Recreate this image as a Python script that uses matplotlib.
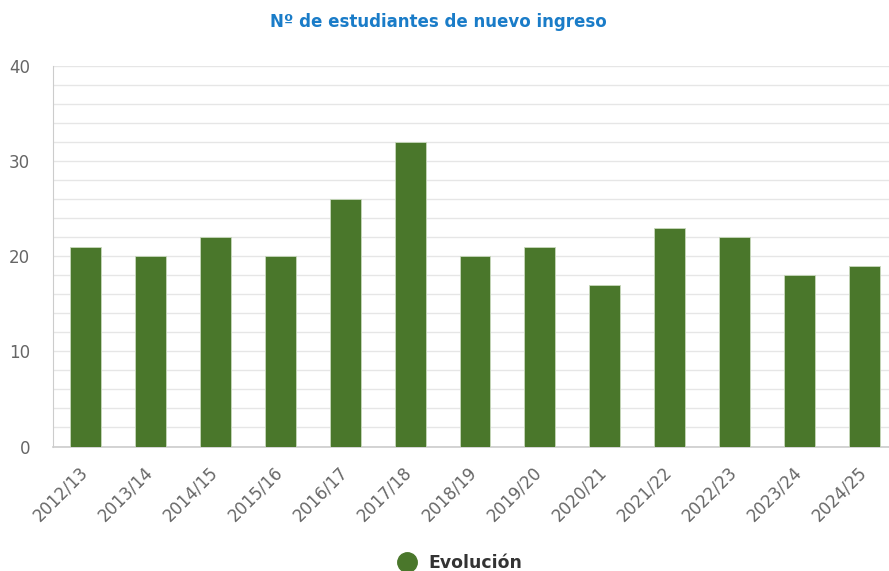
import matplotlib
matplotlib.use("Agg")
import matplotlib.pyplot as plt
from matplotlib.lines import Line2D
from matplotlib.transforms import ScaledTranslation

categories = ["2012/13", "2013/14", "2014/15", "2015/16", "2016/17", "2017/18", "2018/19",
              "2019/20", "2020/21", "2021/22", "2022/23", "2023/24", "2024/25"]
values = [21, 20, 22, 20, 26, 32, 20, 21, 17, 23, 22, 18, 19]
series_name = "Evolución"
title = "Nº de estudiantes de nuevo ingreso"

plt.rcParams['font.family'] = ['DejaVu Sans']
W, H = 889, 571
fig = plt.figure(figsize=(W/100, H/100), dpi=100)
ax = fig.add_axes([53/W, 1-446.5/H, (897-53)/W, (446.5-66)/H])

bar_color = "#4a772b"
x = list(range(len(categories)))
ax.bar(x, values, width=0.477, color=bar_color, edgecolor="#c8d8bc", linewidth=0.6, zorder=3)
ax.set_xlim(-0.5, len(categories) - 0.5)
ax.set_ylim(0, 40)
ax.set_yticks(range(0, 41, 10))
ax.set_yticks(range(0, 41, 2), minor=True)
ax.yaxis.grid(True, which="both", color="#e6e6e6", linewidth=1, zorder=0)
ax.tick_params(axis="y", which="both", length=0, labelsize=12, labelcolor="#666666", pad=16.5)
ax.set_xticks(x)
ax.set_xticklabels([])
ax.tick_params(axis="x", length=0)
shift = ScaledTranslation(-7/100, -12/72, fig.dpi_scale_trans)
for xi, cat in zip(x, categories):
    ax.text(xi, 0, cat, rotation=45, ha="right", va="top", rotation_mode="anchor",
            fontsize=12, color="#666666",
            transform=ax.get_xaxis_transform() + shift)
for s in ["top", "right"]:
    ax.spines[s].set_visible(False)
ax.spines["left"].set_color("#cccccc")
ax.spines["bottom"].set_color("#cccccc")
ax.spines["bottom"].set_linewidth(1.2)

fig.text(438/W, 1 - 22/H, title, ha="center", va="center", fontsize=12,
         fontweight="bold", color="#1a7cc8")

# legend
fig.add_artist(Line2D([406.7/W], [1 - 562/H], marker="o", linestyle="none",
                      markersize=14, color=bar_color, transform=fig.transFigure))
fig.text(428/W, 1 - 563/H, series_name, ha="left", va="center", fontsize=12.4,
         fontweight="bold", color="#333333")

fig.savefig("out.png", dpi=100)
